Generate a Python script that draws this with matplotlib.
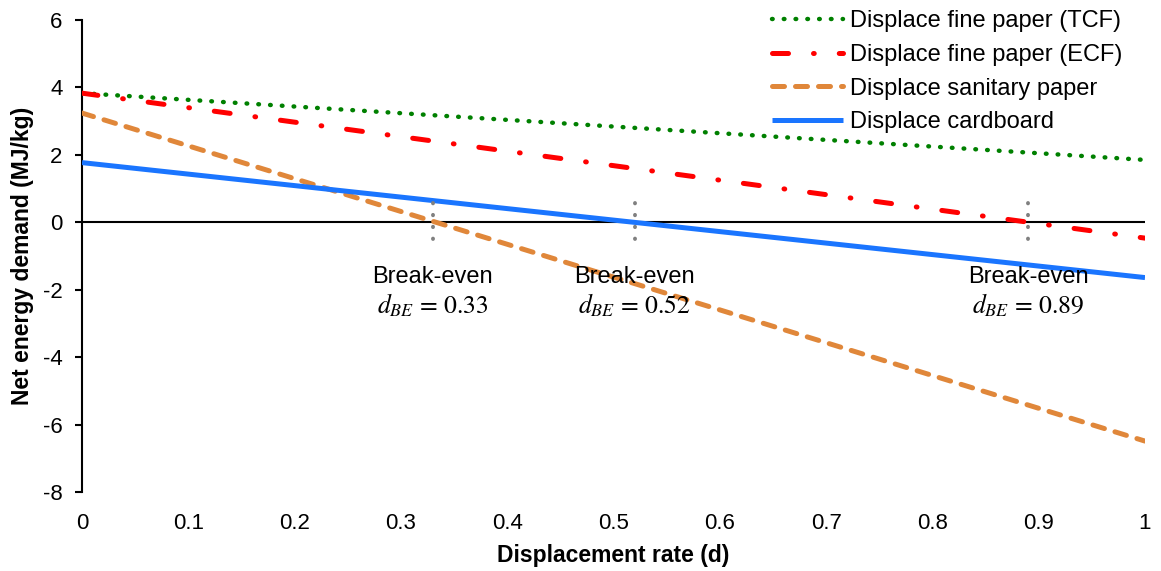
import matplotlib
matplotlib.use("Agg")
import matplotlib.pyplot as plt
import numpy as np

plt.rcParams['font.family'] = ['Liberation Sans', 'DejaVu Sans']
plt.rcParams['mathtext.fontset'] = 'stix'

# Data
d = [0.0, 1.0]
tcf = [3.83, 1.85]
ecf = [3.83, -0.47]
sanitary = [3.24, -6.49]
cardboard = [1.77, -1.64]
labels = ["Displace fine paper (TCF)", "Displace fine paper (ECF)",
          "Displace sanitary paper", "Displace cardboard"]
break_even = [0.33, 0.52, 0.89]
be_labels = ["0.33", "0.52", "0.89"]
xticks = [0, 0.1, 0.2, 0.3, 0.4, 0.5, 0.6, 0.7, 0.8, 0.9, 1]
xticklabels = ["0", "0.1", "0.2", "0.3", "0.4", "0.5", "0.6", "0.7", "0.8", "0.9", "1"]
yticks = [-8, -6, -4, -2, 0, 2, 4, 6]

fig = plt.figure(figsize=(11.61, 5.71), dpi=100)
ax = fig.add_axes([82/1161, 1-492/571, (1145-82)/1161, (492-20)/571])
ax.set_xlim(0, 1)
ax.set_ylim(-8, 6)

ax.axhline(0, color='black', lw=1.5, zorder=1)

l1, = ax.plot(d, tcf, color='#008000', lw=3.2, linestyle=(0, (0.15, 2.5)),
              dash_capstyle='round', label=labels[0], zorder=3)
l2, = ax.plot(d, ecf, color='#FF0000', lw=3.6, linestyle=(0, (3.2, 5.0, 0.15, 5.0)),
              dash_capstyle='round', label=labels[1], zorder=3)
l3, = ax.plot(d, sanitary, color='#E0873A', lw=3.6, linestyle=(0, (2.4, 2.2)),
              dash_capstyle='round', label=labels[2], zorder=3)
l4, = ax.plot(d, cardboard, color='#1A75FF', lw=3.6, linestyle='-',
              solid_capstyle='butt', label=labels[3], zorder=3)

for xb, lab in zip(break_even, be_labels):
    ax.plot([xb, xb], [0.57, -0.5], color='#808080', lw=2.8,
            linestyle=(0, (0.1, 2.95)), dash_capstyle='round', zorder=4)
    ax.text(xb, -1.63, "Break-even", ha='center', va='center', fontsize=17)
    ax.text(xb, -2.48, r"$d_{BE}$ = " + lab, ha='center', va='center', fontsize=18.5,
            family='STIXGeneral')

ax.set_xticks(xticks)
ax.set_xticklabels(xticklabels)
ax.set_yticks(yticks)
ax.set_yticklabels([str(v) for v in yticks])
ax.tick_params(axis='x', length=0, pad=15, labelsize=16)
ax.tick_params(axis='y', direction='out', length=5, width=1.5, pad=9, labelsize=16)

for s in ['top', 'right', 'bottom']:
    ax.spines[s].set_visible(False)
ax.spines['left'].set_linewidth(1.5)

ax.set_xlabel("Displacement rate (d)", fontsize=16.5, fontweight='bold', labelpad=7)
ax.set_ylabel("Net energy demand (MJ/kg)", fontsize=16.5, fontweight='bold', labelpad=6)

leg = fig.legend(handles=[l1, l2, l3, l4], loc='upper left',
                 bbox_to_anchor=(772/1161, 1-10/571), frameon=False, fontsize=17,
                 handlelength=3.0, handletextpad=0.3, labelspacing=0.5,
                 borderpad=0, borderaxespad=0)

fig.savefig("out.png", dpi=100)
